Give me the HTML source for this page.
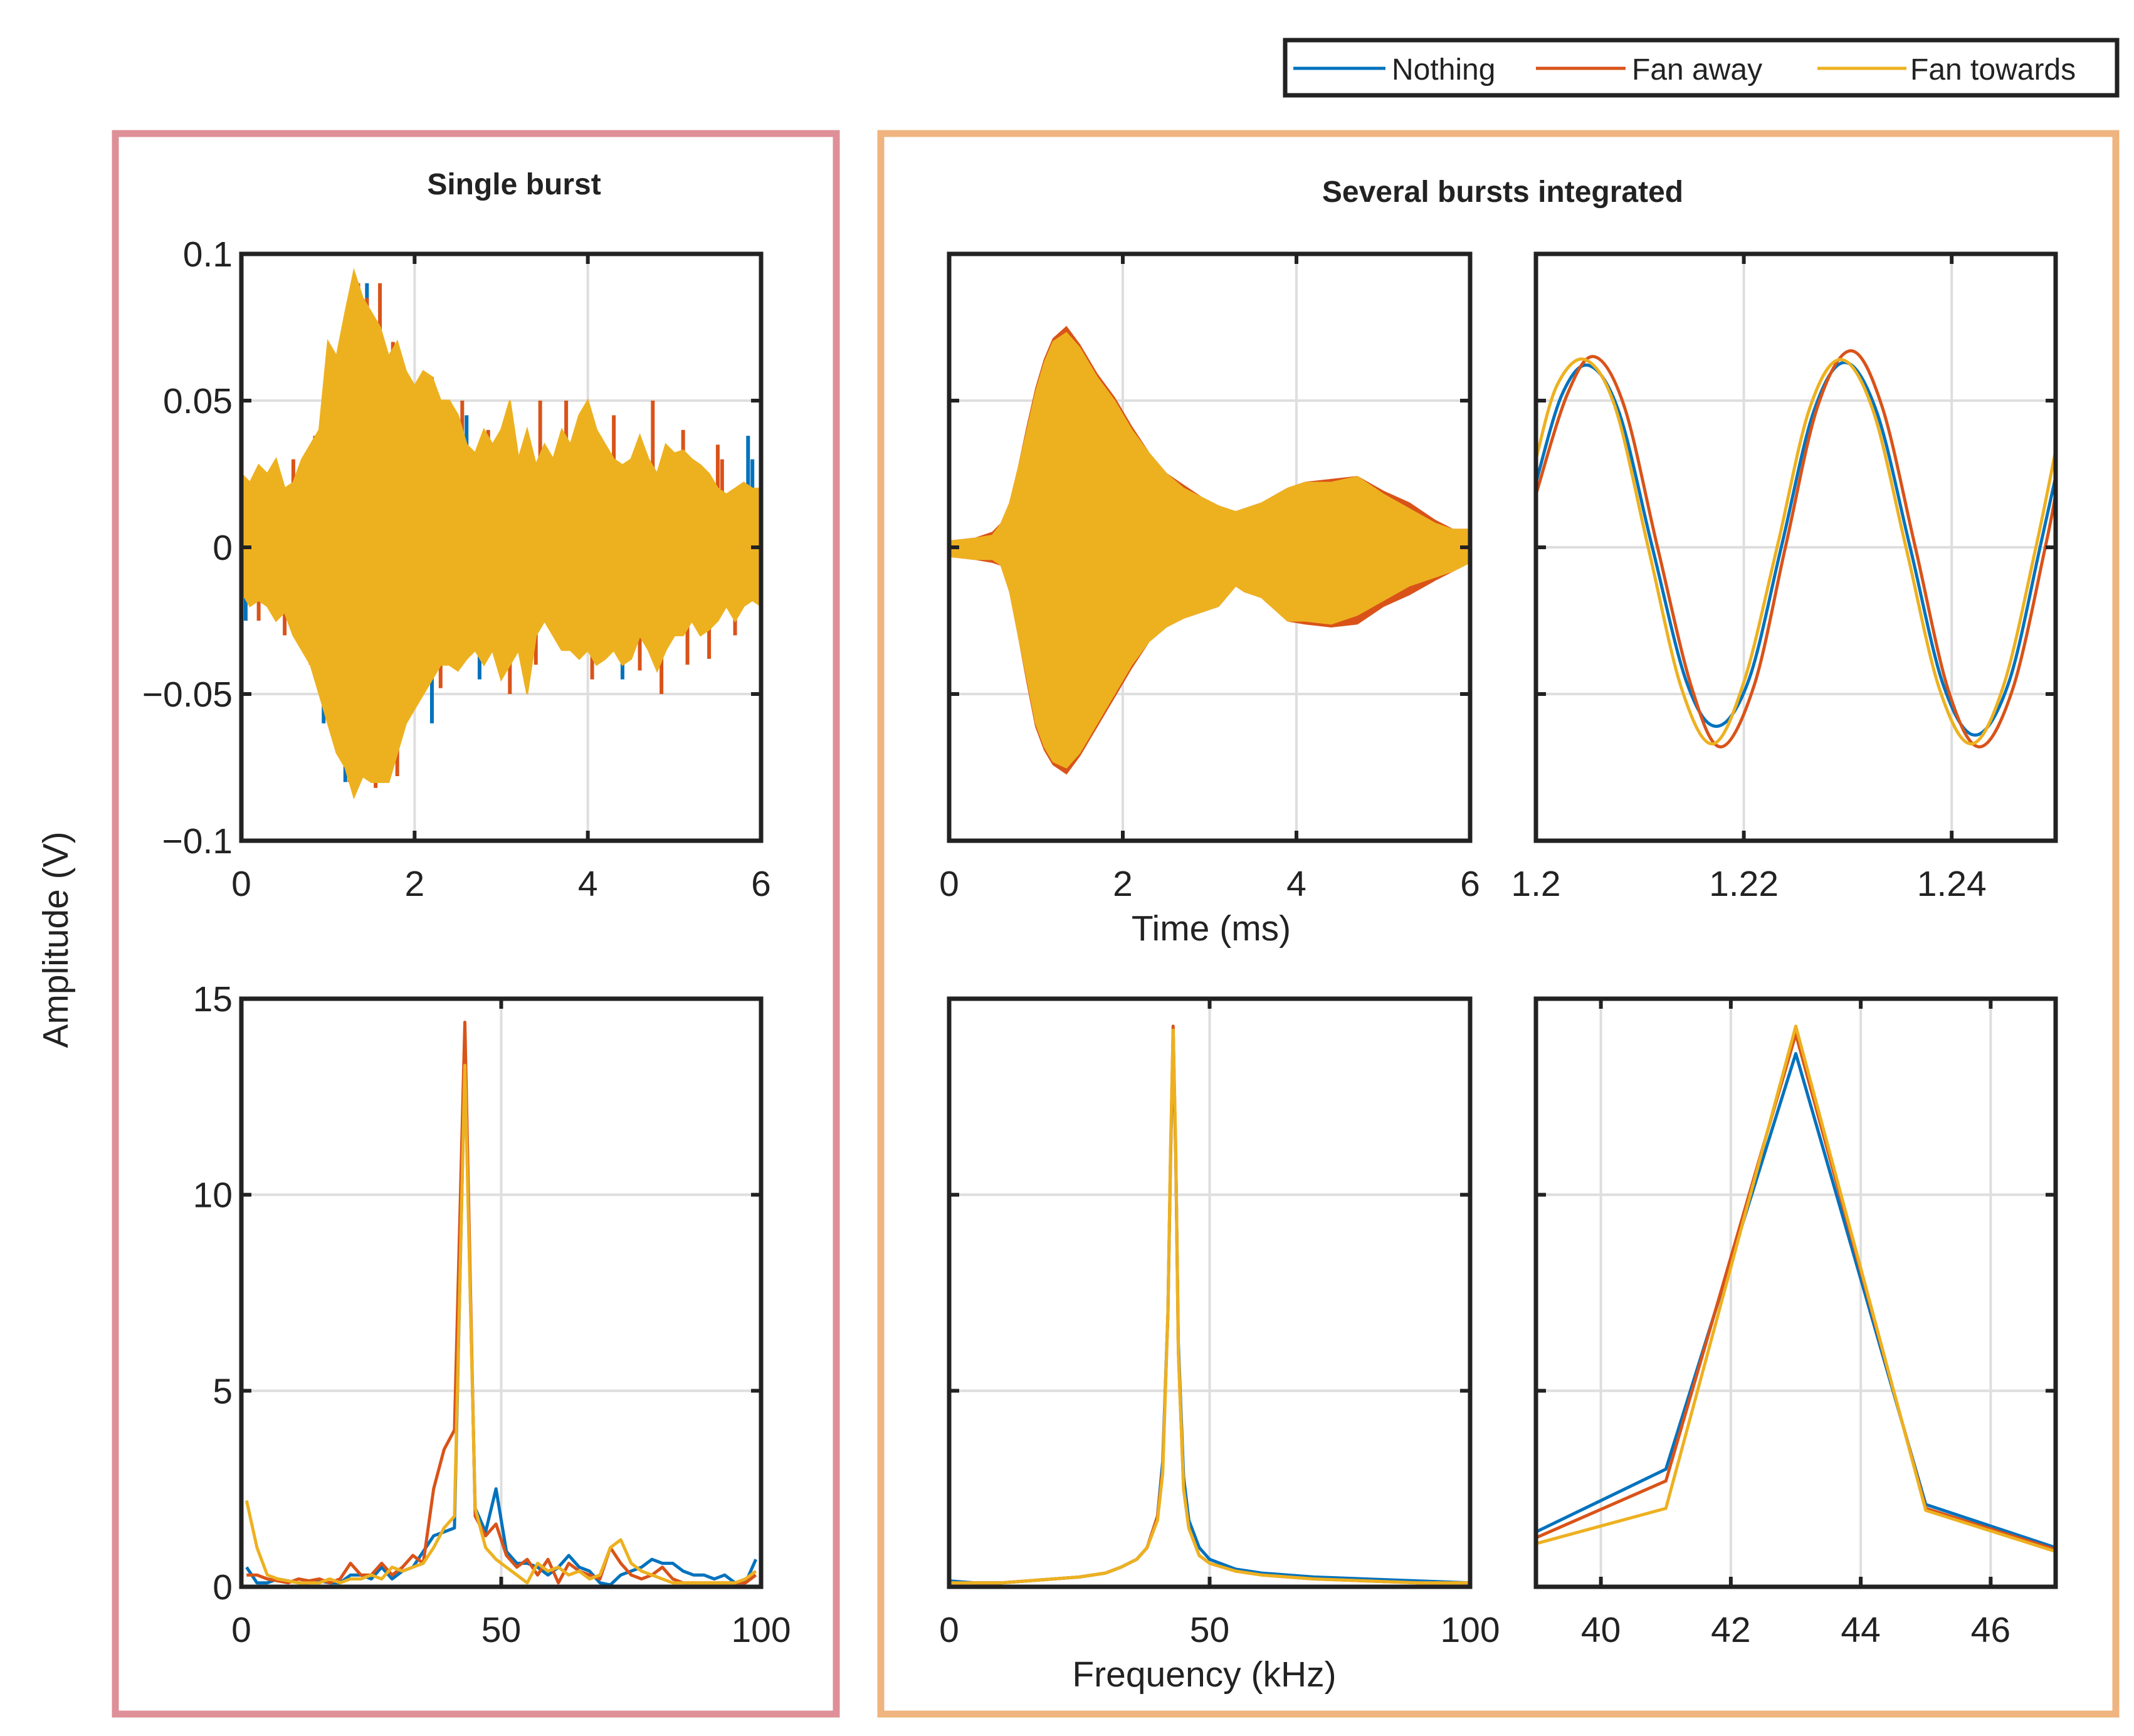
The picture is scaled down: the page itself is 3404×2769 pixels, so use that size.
<!DOCTYPE html>
<html><head><meta charset="utf-8"><style>
html,body{margin:0;padding:0;background:#fff;}
svg{display:block;font-family:"Liberation Sans",Arial,sans-serif;}
</style></head><body>
<svg id="fig" xmlns="http://www.w3.org/2000/svg" width="3404" height="2769" viewBox="0 0 3404 2769">
<rect x="0" y="0" width="3404" height="2769" fill="#fff"/>
<rect x="184" y="213" width="1150" height="2521" fill="none" stroke="#de8f97" stroke-width="11"/>
<rect x="1405" y="213" width="1970" height="2521" fill="none" stroke="#efb47f" stroke-width="11"/>
<text x="820" y="310" font-size="48" font-weight="bold" text-anchor="middle" fill="#222">Single burst</text>
<text x="2397" y="322" font-size="48" font-weight="bold" text-anchor="middle" fill="#222">Several bursts integrated</text>
<text x="1932" y="1500" font-size="57" text-anchor="middle" fill="#222">Time (ms)</text>
<text x="1921" y="2690" font-size="57" text-anchor="middle" fill="#222">Frequency (kHz)</text>
<text x="0" y="0" font-size="57" text-anchor="middle" fill="#222" transform="translate(108,1499) rotate(-90)">Amplitude (V)</text>
<g>
<rect x="2050" y="64" width="1327" height="88" fill="#fff" stroke="#222" stroke-width="7"/>
<line x1="2063" y1="109" x2="2210" y2="109" stroke="#0072BD" stroke-width="5"/>
<text x="2220" y="127" font-size="48" fill="#222">Nothing</text>
<line x1="2450" y1="109" x2="2593" y2="109" stroke="#D95319" stroke-width="5"/>
<text x="2603" y="127" font-size="48" fill="#222">Fan away</text>
<line x1="2899" y1="109" x2="3041" y2="109" stroke="#EDB120" stroke-width="5"/>
<text x="3047" y="127" font-size="48" fill="#222">Fan towards</text>
</g>
</svg>
<script>
// ---- data ----
const burstTimes = [0,0.1,0.2,0.3,0.4,0.5,0.6,0.7,0.8,0.9,1.0,1.1,1.2,1.3,1.4,1.5,1.6,1.7,1.8,1.9,2.0,2.1,2.2,2.3,2.4,2.5,2.6,2.7,2.8,2.9,3.0,3.1,3.2,3.3,3.4,3.5,3.6,3.7,3.8,3.9,4.0,4.1,4.2,4.3,4.4,4.5,4.6,4.7,4.8,4.9,5.0,5.1,5.2,5.3,5.4,5.5,5.6,5.7,5.8,5.9,6.0];
const singleUpperYellow = [0.025,0.022,0.028,0.025,0.03,0.02,0.022,0.03,0.035,0.04,0.07,0.065,0.08,0.094,0.085,0.08,0.075,0.065,0.07,0.06,0.055,0.06,0.058,0.05,0.05,0.045,0.035,0.032,0.04,0.035,0.04,0.05,0.03,0.04,0.028,0.035,0.03,0.04,0.035,0.045,0.05,0.04,0.035,0.03,0.028,0.03,0.038,0.03,0.025,0.035,0.032,0.033,0.03,0.028,0.025,0.02,0.018,0.02,0.022,0.02,0.02];
const singleLowerYellow = [-0.015,-0.02,-0.018,-0.02,-0.025,-0.022,-0.03,-0.035,-0.04,-0.05,-0.06,-0.07,-0.075,-0.085,-0.078,-0.08,-0.08,-0.08,-0.07,-0.06,-0.055,-0.05,-0.045,-0.04,-0.04,-0.042,-0.038,-0.035,-0.04,-0.035,-0.045,-0.04,-0.035,-0.05,-0.03,-0.025,-0.03,-0.035,-0.035,-0.038,-0.035,-0.04,-0.038,-0.035,-0.04,-0.038,-0.03,-0.035,-0.042,-0.035,-0.03,-0.03,-0.025,-0.03,-0.028,-0.025,-0.02,-0.025,-0.02,-0.018,-0.02];
const spikeTimesOrange = [0.05,0.35,0.6,0.85,1.35,1.45,1.6,1.75,2.2,2.55,2.85,3.45,3.75,4.3,4.75,5.1,5.5,5.55,0.2,0.5,0.8,1.25,1.55,1.8,2.3,3.1,3.4,4.05,4.6,4.85,5.15,5.4,5.7];
const spikeValsOrange = [0.02,0.025,0.03,0.038,0.09,0.085,0.09,0.07,0.058,0.05,0.04,0.05,0.05,0.045,0.05,0.04,0.035,0.03,-0.025,-0.03,-0.04,-0.08,-0.082,-0.078,-0.048,-0.05,-0.04,-0.045,-0.042,-0.05,-0.04,-0.038,-0.03];
const spikeTimesBlue = [0.95,1.45,2.6,5.85,5.9,0.05,0.95,1.2,2.2,2.75,4.4];
const spikeValsBlue = [0.04,0.09,0.045,0.038,0.03,-0.025,-0.06,-0.08,-0.06,-0.045,-0.045];

const intTimes = [0,0.3,0.5,0.6,0.7,0.8,0.9,1.0,1.1,1.2,1.35,1.5,1.7,1.9,2.1,2.3,2.5,2.7,2.9,3.1,3.3,3.4,3.6,3.9,4.1,4.4,4.7,5.0,5.3,5.6,5.8,6.0];
const intUpperYellow = [0.002,0.003,0.004,0.008,0.015,0.027,0.04,0.053,0.063,0.07,0.073,0.068,0.058,0.05,0.04,0.032,0.025,0.02,0.017,0.014,0.012,0.013,0.015,0.02,0.022,0.022,0.024,0.018,0.013,0.008,0.006,0.006];
const intLowerYellow = [-0.003,-0.004,-0.004,-0.006,-0.015,-0.03,-0.045,-0.06,-0.068,-0.073,-0.075,-0.07,-0.06,-0.05,-0.04,-0.032,-0.027,-0.024,-0.022,-0.02,-0.013,-0.015,-0.017,-0.025,-0.025,-0.026,-0.023,-0.018,-0.013,-0.01,-0.008,-0.005];
const intUpperOrange = [0.002,0.003,0.005,0.008,0.015,0.027,0.041,0.054,0.064,0.071,0.075,0.069,0.059,0.051,0.041,0.032,0.025,0.021,0.017,0.014,0.012,0.013,0.015,0.02,0.022,0.023,0.024,0.019,0.015,0.009,0.006,0.006];
const intLowerOrange = [-0.003,-0.004,-0.005,-0.006,-0.015,-0.03,-0.046,-0.061,-0.069,-0.074,-0.077,-0.071,-0.061,-0.051,-0.041,-0.032,-0.027,-0.024,-0.022,-0.02,-0.013,-0.015,-0.017,-0.025,-0.026,-0.027,-0.026,-0.02,-0.016,-0.011,-0.008,-0.005];

const zoomTimesBlue = [1.2,1.2025,1.2051,1.208,1.2112,1.2145,1.2174,1.2205,1.2236,1.2267,1.2297,1.2328,1.236,1.2392,1.2423,1.2455,1.2485,1.25];
const zoomValsBlue = [0.022,0.052,0.062,0.046,0,-0.046,-0.061,-0.045,0,0.046,0.063,0.046,0,-0.047,-0.064,-0.046,0,0.024];
const zoomTimesOrange = [1.2,1.203,1.2056,1.2085,1.2117,1.215,1.2178,1.221,1.224,1.2271,1.2303,1.2333,1.2365,1.2397,1.2427,1.2459,1.249,1.25];
const zoomValsOrange = [0.018,0.052,0.065,0.048,0,-0.048,-0.068,-0.047,0,0.048,0.067,0.048,0,-0.049,-0.068,-0.048,0,0.018];
const zoomTimesYellow = [1.2,1.202,1.2047,1.2076,1.2108,1.214,1.217,1.22,1.2232,1.2263,1.2293,1.2324,1.2356,1.2388,1.2419,1.245,1.2481,1.25];
const zoomValsYellow = [0.03,0.055,0.064,0.048,0,-0.048,-0.067,-0.046,0,0.047,0.064,0.047,0,-0.048,-0.067,-0.047,0,0.033];

const specFreqs = [1,3,5,7,9,11,13,15,17,19,21,23,25,27,29,31,33,35,37,39,41,43,45,47,49,51,53,55,57,59,61,63,65,67,69,71,73,75,77,79,81,83,85,87,89,91,93,95,97,99];
const specBlue = [0.5,0.1,0.1,0.2,0.15,0.1,0.1,0.15,0.1,0.1,0.3,0.3,0.2,0.5,0.2,0.4,0.5,0.9,1.3,1.4,1.5,13.5,2.0,1.4,2.5,0.9,0.6,0.6,0.5,0.3,0.5,0.8,0.5,0.4,0.1,0.05,0.3,0.4,0.5,0.7,0.6,0.6,0.4,0.3,0.3,0.2,0.3,0.1,0.1,0.7];
const specOrange = [0.3,0.3,0.2,0.15,0.1,0.2,0.15,0.2,0.1,0.2,0.6,0.3,0.3,0.6,0.3,0.5,0.8,0.6,2.5,3.5,4.0,14.4,1.8,1.3,1.6,0.8,0.5,0.7,0.3,0.7,0.1,0.6,0.4,0.3,0.2,1.0,0.6,0.3,0.2,0.3,0.5,0.2,0.1,0.1,0.1,0.1,0.1,0.1,0.1,0.3];
const specYellow = [2.2,1.0,0.3,0.2,0.15,0.1,0.1,0.1,0.2,0.1,0.2,0.2,0.3,0.2,0.5,0.4,0.5,0.6,1.0,1.5,1.8,13.3,2.0,1.0,0.7,0.5,0.3,0.1,0.6,0.4,0.5,0.3,0.4,0.2,0.3,1.0,1.2,0.6,0.4,0.3,0.2,0.1,0.1,0.1,0.1,0.1,0.1,0.1,0.2,0.4];

const intFreqs = [0,5,10,15,20,25,30,33,36,38,40,41,42,42.5,43,43.5,44,45,46,48,50,55,60,65,70,80,90,100];
const intSpecBlue = [0.15,0.1,0.1,0.15,0.2,0.25,0.35,0.5,0.7,1.0,1.8,3.2,7,11,13.9,11,6.2,2.8,1.7,1.0,0.7,0.45,0.35,0.3,0.25,0.2,0.15,0.1];
const intSpecOrange = [0.1,0.1,0.1,0.15,0.2,0.25,0.35,0.5,0.7,1.0,1.8,3,7,11,14.3,11,6,2.5,1.5,0.8,0.6,0.4,0.3,0.25,0.2,0.15,0.1,0.1];
const intSpecYellow = [0.1,0.1,0.1,0.15,0.2,0.25,0.35,0.5,0.7,1.0,1.7,2.9,7,11.2,14.2,11.2,6,2.5,1.5,0.8,0.6,0.4,0.3,0.25,0.2,0.15,0.1,0.1];

const peakFreqs = [39,41,43,45,47];
const peakBlue = [1.4,3.0,13.6,2.1,1.0];
const peakOrange = [1.25,2.7,14.1,2.0,0.95];
const peakYellow = [1.1,2.0,14.3,1.95,0.9];

const ticksTimeX = [0,2,4,6];
const ticksZoomX = [1.2,1.22,1.24];
const ticksZoomXLabels = ["1.2","1.22","1.24"];
const ticksAmpY = [-0.1,-0.05,0,0.05,0.1];
const ticksAmpYLabels = ["\u22120.1","\u22120.05","0","0.05","0.1"];
const ticksFreqX = [0,50,100];
const ticksPeakX = [40,42,44,46];
const ticksSpecY = [0,5,10,15];

// ---- drawing ----
const NS = "http://www.w3.org/2000/svg";
const svg = document.getElementById('fig');
const BLUE="#0072BD", ORANGE="#D95319", YELLOW="#EDB120";
function mk(tag, attrs, parent){ const e=document.createElementNS(NS,tag); for(const k in attrs) e.setAttribute(k,attrs[k]); (parent||svg).appendChild(e); return e; }
function axes(name, L,T,R,B, x0,x1,y0,y1){
  const g = mk('g',{});
  
  
  return {g, L,T,R,B, sx:v=>L+(v-x0)/(x1-x0)*(R-L), sy:v=>B-(v-y0)/(y1-y0)*(B-T)};
}
function grid(a, xt, yt){
  xt.forEach(v=>{ const l=mk('line',{x1:a.sx(v),x2:a.sx(v),y1:a.T,y2:a.B,stroke:'#dedede','stroke-width':4},a.g);
      });
  yt.forEach(v=>{ const l=mk('line',{x1:a.L,x2:a.R,y1:a.sy(v),y2:a.sy(v),stroke:'#dedede','stroke-width':4},a.g);
      });
}
function frame(a, xt, xl, yt, yl){
  xt.forEach(v=>{ const x=a.sx(v);
    mk('line',{x1:x,x2:x,y1:a.B,y2:a.B-16,stroke:'#222','stroke-width':6},a.g);
    mk('line',{x1:x,x2:x,y1:a.T,y2:a.T+16,stroke:'#222','stroke-width':6},a.g); });
  yt.forEach(v=>{ const y=a.sy(v);
    mk('line',{x1:a.L,x2:a.L+16,y1:y,y2:y,stroke:'#222','stroke-width':6},a.g);
    mk('line',{x1:a.R,x2:a.R-16,y1:y,y2:y,stroke:'#222','stroke-width':6},a.g); });
  const r=mk('rect',{x:a.L,y:a.T,width:a.R-a.L,height:a.B-a.T,fill:'none',stroke:'#222','stroke-width':7},a.g);
   
  if(xl) xt.forEach((v,i)=>{ const t=mk('text',{x:a.sx(v),y:a.B+88,'font-size':57,'text-anchor':'middle',fill:'#222'},a.g); t.textContent=xl[i];
      });
  if(yl) yt.forEach((v,i)=>{ const t=mk('text',{x:a.L-14,y:a.sy(v)+20,'font-size':57,'text-anchor':'end',fill:'#222'},a.g); t.textContent=yl[i];
      });
}
function polyline(a, xs, ys, color, w, name){
  const p=mk('polyline',{points:xs.map((x,i)=>a.sx(x).toFixed(1)+','+a.sy(ys[i]).toFixed(1)).join(' '),fill:'none',stroke:color,'stroke-width':w,'stroke-linejoin':'round'},a.g);
  
  
}
function smooth(a, xs, ys, color, w, name){
  const P=xs.map((x,i)=>[a.sx(x),a.sy(ys[i])]);
  let d='M'+P[0][0]+','+P[0][1];
  for(let i=0;i<P.length-1;i++){
    const p0=P[Math.max(0,i-1)],p1=P[i],p2=P[i+1],p3=P[Math.min(P.length-1,i+2)];
    d+=' C'+(p1[0]+(p2[0]-p0[0])/6)+','+(p1[1]+(p2[1]-p0[1])/6)+' '+(p2[0]-(p3[0]-p1[0])/6)+','+(p2[1]-(p3[1]-p1[1])/6)+' '+p2[0]+','+p2[1];
  }
  const p=mk('path',{d,fill:'none',stroke:color,'stroke-width':w},a.g);
  
  
}
function band(a, xs, up, lo, color, name){
  const pts=xs.map((x,i)=>a.sx(x).toFixed(1)+','+a.sy(up[i]).toFixed(1)).concat(xs.slice().reverse().map((x,j)=>{const i=xs.length-1-j;return a.sx(x).toFixed(1)+','+a.sy(lo[i]).toFixed(1);}));
  const p=mk('polygon',{points:pts.join(' '),fill:color,stroke:color,'stroke-width':3},a.g);
  
  
}
function spikes(a, ts, vs, color, name){
  ts.forEach((t,i)=>{ const l=mk('line',{x1:a.sx(t),x2:a.sx(t),y1:a.sy(0),y2:a.sy(vs[i]),stroke:color,'stroke-width':6},a.g);
    
     });
}

let a = axes('single-burst-time-plot',385,405,1214,1341,0,6,-0.1,0.1);
grid(a,ticksTimeX,ticksAmpY);
spikes(a,spikeTimesBlue,spikeValsBlue,BLUE,'nothing-spike');
spikes(a,spikeTimesOrange,spikeValsOrange,ORANGE,'fan-away-spike');
band(a,burstTimes,singleUpperYellow,singleLowerYellow,YELLOW,'fan-towards-signal');
frame(a,ticksTimeX,ticksTimeX.map(String),ticksAmpY,ticksAmpYLabels);

a = axes('integrated-time-plot',1514,405,2345,1341,0,6,-0.1,0.1);
grid(a,ticksTimeX,ticksAmpY);
band(a,intTimes,intUpperOrange,intLowerOrange,ORANGE,'fan-away-signal');
band(a,intTimes,intUpperYellow,intLowerYellow,YELLOW,'fan-towards-signal');
frame(a,ticksTimeX,ticksTimeX.map(String),ticksAmpY,null);

a = axes('zoomed-time-plot',2450,405,3279,1341,1.2,1.25,-0.1,0.1);
grid(a,ticksZoomX,ticksAmpY);
smooth(a,zoomTimesBlue,zoomValsBlue,BLUE,5,'nothing-line');
smooth(a,zoomTimesOrange,zoomValsOrange,ORANGE,5,'fan-away-line');
smooth(a,zoomTimesYellow,zoomValsYellow,YELLOW,5,'fan-towards-line');
frame(a,ticksZoomX,ticksZoomXLabels,ticksAmpY,null);

a = axes('single-burst-spectrum-plot',385,1593,1214,2531,0,100,0,15);
grid(a,ticksFreqX,ticksSpecY);
polyline(a,specFreqs,specBlue,BLUE,5,'nothing-line');
polyline(a,specFreqs,specOrange,ORANGE,5,'fan-away-line');
polyline(a,specFreqs,specYellow,YELLOW,5,'fan-towards-line');
frame(a,ticksFreqX,ticksFreqX.map(String),ticksSpecY,ticksSpecY.map(String));

a = axes('integrated-spectrum-plot',1514,1593,2345,2531,0,100,0,15);
grid(a,ticksFreqX,ticksSpecY);
polyline(a,intFreqs,intSpecBlue,BLUE,5,'nothing-line');
polyline(a,intFreqs,intSpecOrange,ORANGE,5,'fan-away-line');
polyline(a,intFreqs,intSpecYellow,YELLOW,5,'fan-towards-line');
frame(a,ticksFreqX,ticksFreqX.map(String),ticksSpecY,null);

a = axes('zoomed-spectrum-plot',2450,1593,3279,2531,39,47,0,15);
grid(a,ticksPeakX,ticksSpecY);
polyline(a,peakFreqs,peakBlue,BLUE,5,'nothing-line');
polyline(a,peakFreqs,peakOrange,ORANGE,5,'fan-away-line');
polyline(a,peakFreqs,peakYellow,YELLOW,5,'fan-towards-line');
frame(a,ticksPeakX,ticksPeakX.map(String),ticksSpecY,null);
</script>
</body></html>
